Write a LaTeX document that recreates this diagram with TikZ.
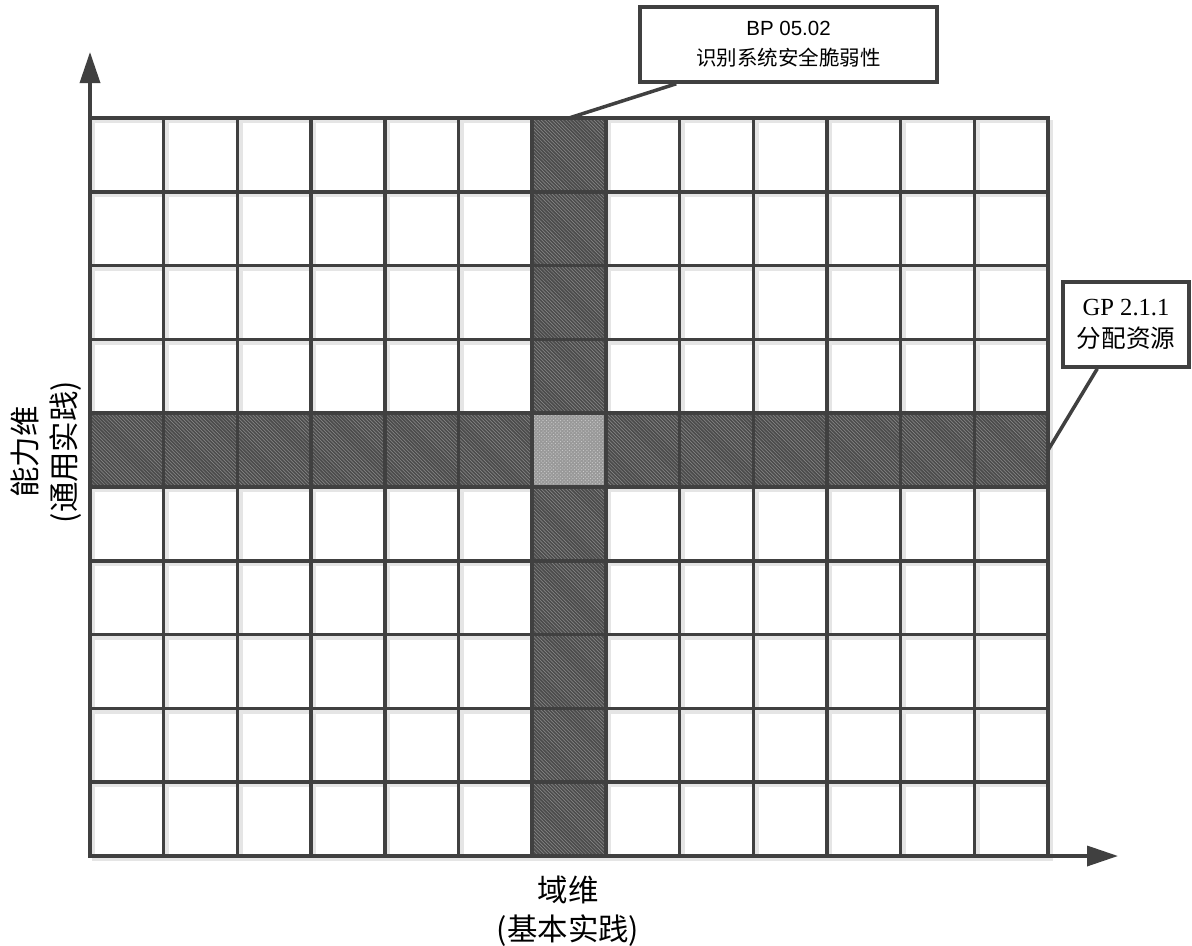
\documentclass[tikz,border=0pt]{standalone}
\usepackage{fontspec}
\setmainfont{Liberation Sans}
\newfontfamily\cjk{Noto Sans CJK SC}
\newfontfamily\timesfont{Liberation Serif}
\usetikzlibrary{arrows.meta,patterns,calc}

\begin{document}
\begin{tikzpicture}[
                x=0.03cm, y=-0.03cm,
                gridline/.style={draw=black!75, line width=3pt, line cap=rect},
                gridshadow/.style={draw=black!10, line width=3pt, line cap=rect},
                axis/.style={draw=black!75, line width=3pt, -{Triangle[length=0.93cm,width=0.6cm]}},
                hatched/.style={fill=black!70, postaction={pattern=north west lines, pattern color=black!45}},
                centrecell/.style={fill=black!40, postaction={pattern=crosshatch dots, pattern color=white!80!black}},
                callout/.style={draw=black!75, line width=3pt, fill=white, align=center, inner sep=0pt},
                leader/.style={draw=black!75, line width=3pt},
                axislabel/.style={font=\cjk\fontsize{26}{33}\selectfont, align=center}
                ]
                \useasboundingbox (0,0) rectangle (1192,946);
                \def\cw{73.7}
                \def\ch{73.8}
                % shadow of the grid
                \foreach \i in {0,...,13}
                    \draw[gridshadow] (93.5+\i*\cw,121.5) -- (93.5+\i*\cw,859.5);
                \foreach \j in {0,...,10}
                    \draw[gridshadow] (93.5,121.5+\j*\ch) -- (1051.6,121.5+\j*\ch);
                % selected column and row
                \path[hatched] (90+6*\cw,118) rectangle ++(\cw,738);
                \path[hatched] (90,118+4*\ch) rectangle ++(958.1,\ch);
                \path[centrecell] (90+6*\cw,118+4*\ch) rectangle ++(\cw,\ch);
                % grid
                \foreach \i in {0,...,13}
                    \draw[gridline] (90+\i*\cw,118) -- (90+\i*\cw,856);
                \foreach \j in {0,...,10}
                    \draw[gridline] (90,118+\j*\ch) -- (1048.1,118+\j*\ch);
                % axes
                \coordinate (origin) at (90,856);
                \coordinate (ytip) at (90,52);
                \coordinate (xtip) at (1118,856);
                \draw[axis] (origin) -- (ytip);
                \draw[axis] (origin) -- (xtip);
                % callouts
                \coordinate (bptip) at (90+6.5*\cw,118);
                \coordinate (gptip) at (1048.1,118+4.5*\ch);
                \node[callout, minimum width=8.91cm, minimum height=2.25cm,
                      font=\fontsize{17.5}{25.6}\selectfont] (bpbox) at (788.5,44.5)
                      {BP 05.02\\{\cjk 识别系统安全脆弱性}};
                \node[callout, minimum width=3.78cm, minimum height=2.55cm,
                      font=\timesfont\fontsize{21}{27.3}\selectfont] (gpbox) at (1126,324.5)
                      {GP 2.1.1\\{\cjk 分配资源}};
                \draw[leader] ($(bpbox.south west)+(38,0)$) -- (bptip);
                \draw[leader] ($(gpbox.south west)+(36,0)$) -- (gptip);
                % axis labels
                \node[axislabel, rotate=90] (ylabel) at (46,452) {能力维\\(通用实践)};
                \node[axislabel] (xlabel) at (568,911) {域维\\(基本实践)};
            \end{tikzpicture}
\end{document}
